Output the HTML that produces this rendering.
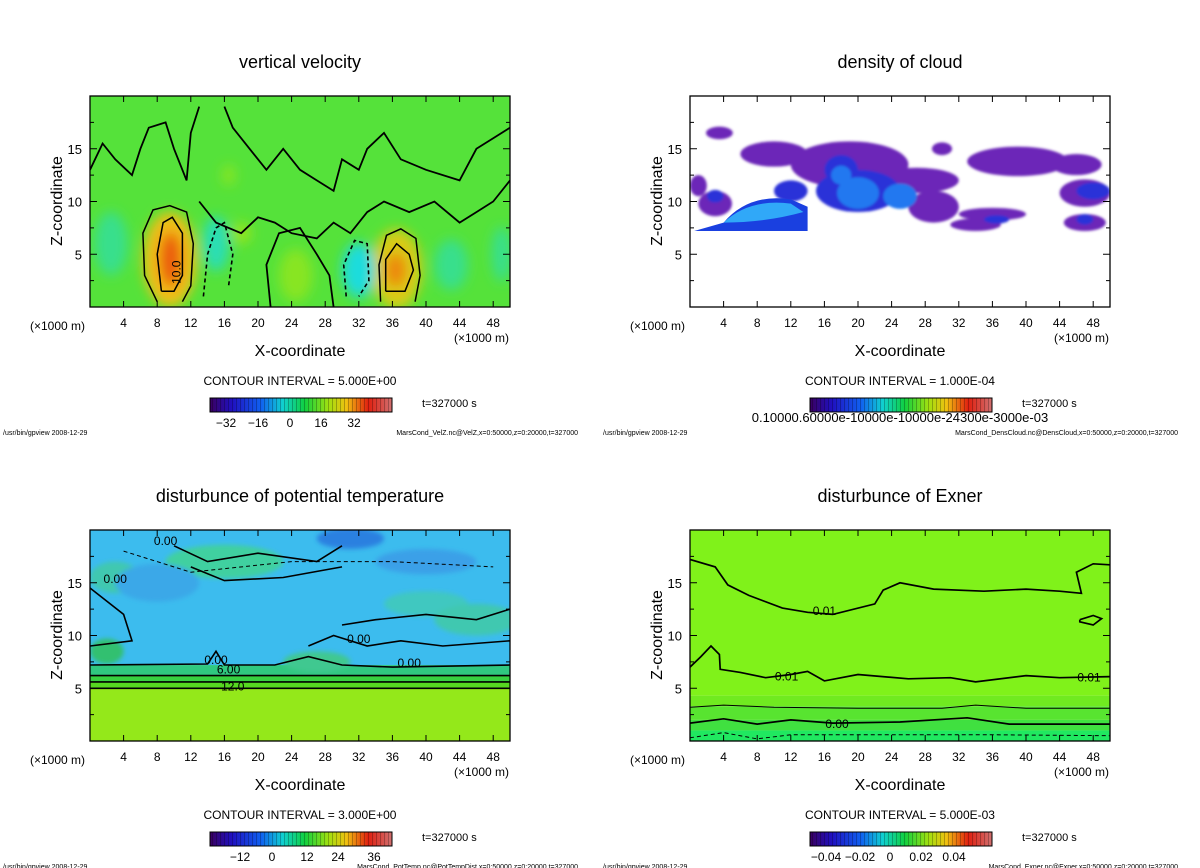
<!DOCTYPE html>
<html><head><meta charset="utf-8"><style>
html,body{margin:0;padding:0;background:#fff;width:1200px;height:868px;overflow:hidden}
svg{display:block}
text{font-family:"Liberation Sans","DejaVu Sans",sans-serif;fill:#000}
</style></head><body>
<svg id="s" width="1200" height="868" viewBox="0 0 1200 868" xmlns="http://www.w3.org/2000/svg">
<defs>
<filter id="b6" x="-50%" y="-50%" width="200%" height="200%"><feGaussianBlur stdDeviation="6"/></filter>
<filter id="b3" x="-50%" y="-50%" width="200%" height="200%"><feGaussianBlur stdDeviation="2.5"/></filter>
<filter id="b1" x="-50%" y="-50%" width="200%" height="200%"><feGaussianBlur stdDeviation="1.2"/></filter>
<linearGradient id="rainbow" x1="0" x2="1" y1="0" y2="0">
<stop offset="0" stop-color="#3a0060"/><stop offset="0.12" stop-color="#2010c0"/><stop offset="0.28" stop-color="#1060f0"/>
<stop offset="0.4" stop-color="#10d0d0"/><stop offset="0.52" stop-color="#10d040"/><stop offset="0.65" stop-color="#a0e010"/>
<stop offset="0.75" stop-color="#f0c010"/><stop offset="0.87" stop-color="#e02010"/><stop offset="1" stop-color="#d07070"/>
</linearGradient>
<pattern id="stripes" width="4" height="10" patternUnits="userSpaceOnUse"><rect x="0" y="0" width="1" height="10" fill="rgba(0,0,0,0.25)"/></pattern>
<clipPath id="c1"><rect x="90" y="96" width="420" height="211"/></clipPath>
<clipPath id="c2"><rect x="690" y="96" width="420" height="211"/></clipPath>
<clipPath id="c3"><rect x="90" y="530" width="420" height="211"/></clipPath>
<clipPath id="c4"><rect x="690" y="530" width="420" height="211"/></clipPath>
</defs>
</svg>
<script>
// ---- data ----
const xTicks=[4,8,12,16,20,24,28,32,36,40,44,48];
const zTicks=[5,10,15];
// velocity blobs: [x km, z km, rx km, rz km, value]
const velBlobs=[[9.5,4.5,3.2,4.5,20],[9.6,4.5,1.3,2.6,34],[36.5,3.6,3,3.8,16],[36.4,3.5,1.2,1.6,28],
 [15,6,1.6,2.6,-6],[32,3.5,2,2.6,-8],[2.5,6,2,3,-4],[43,4,2,2.4,-4],[49,5,1.2,2.6,-4],[24.5,3,2,2.5,5],[18,7,1.2,1,6],[16.5,12.5,0.8,1,5]];
const velContours=[
 [[8,0.5],[6.5,3],[6.3,7],[7.5,9.2],[9.5,9.6],[11.5,9],[12.3,6],[12,2],[11,0.5]],
 [[8.5,1.5],[8,5],[8.7,8],[9.8,8.5],[11,7],[11,3],[10,1.5],[8.5,1.5]],
 [[34.6,0.5],[34.4,4],[35.3,6.8],[37,7.4],[38.8,6.5],[39.3,3],[38.7,0.5]],
 [[35.2,1.5],[35.2,4.5],[36.5,6],[38,5],[38.5,3.5],[37.5,1.5],[35.2,1.5]],
 [[0,13],[1.5,15.5],[3,14],[5,12.5],[6,15],[7,17],[9,17.5],[10,15],[11.5,12],[12,16.5],[13,19]],
 [[16,19],[17,17],[19,15],[21,13],[23,15],[25,13],[27,12],[29,11],[30,14],[32,13],[33,15],[35,16.5],[37,14],[40,13],[44,12],[46,15],[48,16],[50,17]],
 [[13,10],[15,8],[18,7],[20,8.5],[22,8],[24,7],[27,6.5],[29,8],[31,7],[33,9],[35,10],[38,9],[41,10],[44,8],[46,9],[48,10],[50,12]],
 [[21.5,0],[21,4],[22.5,7],[25,7.5],[27,5],[28.5,3],[29,0]]
];
// cloud blobs: [x, z, rx, rz, level]
const cloudBlobs=[[3.5,16.5,1.6,0.6,0],[10,14.5,4,1.2,0],[19,13.5,7,2.2,0],[27,12,5,1.2,0],[39,13.8,6,1.4,0],[46,13.5,3,1,0],
 [1,11.5,1,1,0],[3,9.8,2,1.2,0],[29,9.5,3,1.5,0],[36,8.8,4,0.6,0],[34,7.8,3,0.6,0],[47,10.8,3,1.3,0],[47,8,2.5,0.8,0],[30,15,1.2,0.6,0],
 [20,11,5,2,1],[18,13,2,1.4,1],[12,11,2,1,1],[48,11,2,0.8,1],[47,8.3,1,0.5,1],[36.5,8.3,1.5,0.4,1],[3,10.5,1,0.6,1],
 [20,10.8,2.5,1.5,2],[25,10.5,2,1.2,2],[18,12.5,1.2,0.9,2]];
const ptLevels=[[0,5,"#94e81a"],[5,5.6,"#56d820"],[5.6,6.2,"#38d040"],[6.2,7.2,"#30c880"],[7.2,20,"#3cbcee"]];
const ptPatches=[[16,17,7,1.6,"#40d0a0"],[3,15.5,3,1.5,"#40c8b0"],[2,8.5,2,1.2,"#30c070"],[40,13,5,1.2,"#40c8c0"],[46,11.5,5,1.5,"#40c8b0"],[27,7.5,4,1,"#40c890"],[31,19.2,4,1,"#2a80e0"],[8,15,5,1.8,"#3aa8e8"],[40,17,6,1.2,"#3aa0e8"]];
const exLevels=[[0,1,"#20e860"],[1,2,"#40e040"],[2,3.3,"#58e430"],[3.3,4.3,"#70ea20"],[4.3,20,"#80f21a"]];
// ---- helpers ----
const svg=document.getElementById('s');
const NS='http://www.w3.org/2000/svg';
function mk(tag,attrs,parent){const e=document.createElementNS(NS,tag);for(const k in attrs)e.setAttribute(k,attrs[k]);(parent||svg).appendChild(e);return e;}
function txt(x,y,s,size,anchor,parent){const t=mk('text',{x:x,y:y,'font-size':size,'text-anchor':anchor||'start'},parent);t.textContent=s;return t;}
function axes(x0,y0){return {X:v=>x0+v/50*420,Z:v=>y0+211-v/20*211};}
function velColor(v){const stops=[[-34,[40,0,160]],[-16,[20,120,240]],[-8,[30,220,220]],[0,[80,226,60]],[8,[170,230,20]],[20,[240,190,20]],[34,[235,90,10]]];
 for(let i=1;i<stops.length;i++){if(v<=stops[i][0]){const a=stops[i-1],b=stops[i];const t=(v-a[0])/(b[0]-a[0]);return 'rgb('+a[1].map((c,j)=>Math.round(c+(b[1][j]-c)*t)).join(',')+')';}}return 'rgb(235,90,10)';}
function poly(A,pts,parent,w,dash,name){const d=pts.map((p,i)=>(i?'L':'M')+A.X(p[0]).toFixed(1)+','+A.Z(p[1]).toFixed(1)).join(' ');
 const p=mk('path',{d:d,fill:'none',stroke:'#000','stroke-width':w||1.6,'stroke-dasharray':dash||'none'},parent);
 
 return p;}
function panel(x0,y0,title,clip,name){
 const g=mk('g',{});
 
 
 const A=axes(x0,y0);
 const t=txt(x0+210,y0-28,title,18,'middle',g);
 
 
 const field=mk('g',{'clip-path':'url(#'+clip+')'},g);
 
 
 const ax=mk('g',{},g);
 
 
 mk('rect',{x:x0,y:y0,width:420,height:211,fill:'none',stroke:'#000','stroke-width':1.3},ax);
 xTicks.forEach(v=>{const X=A.X(v);mk('line',{x1:X,x2:X,y1:y0,y2:y0+6,stroke:'#000'},ax);mk('line',{x1:X,x2:X,y1:y0+211,y2:y0+205,stroke:'#000'},ax);
   const l=txt(X,y0+231,String(v),12,'middle',ax);});
 for(let v=2.5;v<20;v+=2.5){const Y=A.Z(v);const L=(v%5===0)?7:4;mk('line',{x1:x0,x2:x0+L,y1:Y,y2:Y,stroke:'#000'},ax);mk('line',{x1:x0+420,x2:x0+420-L,y1:Y,y2:Y,stroke:'#000'},ax);}
 zTicks.forEach(v=>{const l=txt(x0-8,A.Z(v)+5,String(v),13,'end',ax);});
 const u1=txt(x0-60,y0+234,'(\u00d71000 m)',12,'start',ax);
 const u2=txt(x0+364,y0+246,'(\u00d71000 m)',12,'start',ax);
 const xt=txt(x0+210,y0+260,'X-coordinate',16,'middle',ax);
 const zt=mk('text',{x:0,y:0,'font-size':16,'text-anchor':'middle',transform:'translate('+(x0-28)+','+(y0+105)+') rotate(-90)'},ax);zt.textContent='Z-coordinate';
 
 return {g,A,field,ax};
}
function colorbar(x0,y0,interval,ticks,bx,name,file){
 const g=mk('g',{});
 
 
 txt(x0+210,y0+289,'CONTOUR INTERVAL = '+interval,12,'middle',g);
 const r=mk('rect',{x:x0+120,y:y0+302,width:182,height:14,fill:'url(#rainbow)',stroke:'#000','stroke-width':1},g);
 
 mk('rect',{x:x0+120,y:y0+302,width:182,height:14,fill:'url(#stripes)'},g);
 txt(x0+332,y0+311,'t=327000 s',11,'start',g).setAttribute('fill','#333');
 ticks.forEach((t,i)=>txt(x0+120+bx[i],y0+331,t,12,'middle',g));
 txt(x0-87,y0+339,'/usr/bin/gpview  2008-12-29',7,'start',g);
 txt(x0+488,y0+339,file,7,'end',g);
}
// ---- panel 1: vertical velocity ----
let P=panel(90,96,'vertical velocity','c1','panel-vertical-velocity');
mk('rect',{x:90,y:96,width:420,height:211,fill:'#55e23a'},P.field);
const gb=mk('g',{filter:'url(#b6)'},P.field);
velBlobs.forEach(b=>{const e=mk('ellipse',{cx:P.A.X(b[0]),cy:P.A.Z(b[1]),rx:b[2]/50*420,ry:b[3]/20*211,fill:velColor(b[4])},gb);
 });
velContours.forEach((c,i)=>poly(P.A,c,P.field,i<4?1.5:1.8,null,'velocity-contour'));
poly(P.A,[[13.5,1],[14,5],[15,7.5],[16,8],[17,5],[16.5,2]],P.field,1.6,'4,3','negative-contour');
poly(P.A,[[30.5,1],[30.2,4],[31.5,6.3],[33,6],[33.2,2.5],[32,1]],P.field,1.6,'4,3','negative-contour');
txt(P.A.X(10.8),P.A.Z(3.3),'10.0',12,'middle',P.field).setAttribute('transform','rotate(-90 '+P.A.X(10.8)+' '+P.A.Z(3.3)+')');
colorbar(90,96,'5.000E+00',['\u221232','\u221216','0','16','32'],[16,48,80,111,144],'colorbar-velocity','MarsCond_VelZ.nc@VelZ,x=0:50000,z=0:20000,t=327000');
// ---- panel 2: cloud density ----
P=panel(690,96,'density of cloud','c2','panel-density-of-cloud');
mk('rect',{x:690,y:96,width:420,height:211,fill:'#fff'},P.field);
const cc=['#6c28b8','#2a30d8','#2078f0'];
const gc=mk('g',{filter:'url(#b1)'},P.field);
cloudBlobs.forEach(b=>{const e=mk('ellipse',{cx:P.A.X(b[0]),cy:P.A.Z(b[1]),rx:b[2]/50*420,ry:b[3]/20*211,fill:cc[b[4]]},gc);
 });
mk('path',{d:'M'+P.A.X(0.5)+','+P.A.Z(7.2)+' L'+P.A.X(4)+','+P.A.Z(8)+' Q'+P.A.X(7)+','+P.A.Z(10.8)+' '+P.A.X(12)+','+P.A.Z(10.2)+' L'+P.A.X(14)+','+P.A.Z(9.5)+' L'+P.A.X(14)+','+P.A.Z(7.2)+' Z',fill:'#1a40e0'},P.field);
mk('path',{d:'M'+P.A.X(4)+','+P.A.Z(8)+' Q'+P.A.X(7)+','+P.A.Z(10.3)+' '+P.A.X(12)+','+P.A.Z(9.8)+' L'+P.A.X(13.5)+','+P.A.Z(9)+' Q'+P.A.X(9)+','+P.A.Z(8)+' '+P.A.X(4)+','+P.A.Z(8)+' Z',fill:'#30a8f8'},P.field);
colorbar(690,96,'1.000E-04',[],[],'colorbar-cloud','MarsCond_DensCloud.nc@DensCloud,x=0:50000,z=0:20000,t=327000');
txt(900,422,'0.10000.60000e-10000e-10000e-24300e-3000e-03',13,'middle');
// ---- panel 3: potential temperature ----
P=panel(90,530,'disturbunce of potential temperature','c3','panel-potential-temperature');
ptLevels.forEach(l=>{const r=mk('rect',{x:90,y:P.A.Z(l[1]),width:420,height:P.A.Z(l[0])-P.A.Z(l[1]),fill:l[2]},P.field);
 });
const gp=mk('g',{filter:'url(#b3)'},P.field);
ptPatches.forEach(b=>{const e=mk('ellipse',{cx:P.A.X(b[0]),cy:P.A.Z(b[1]),rx:b[2]/50*420,ry:b[3]/20*211,fill:b[4]},gp);
 });
[5.0,5.6,6.2].forEach(z=>poly(P.A,[[0,z],[50,z]],P.field,1.6,null,'temperature-contour'));
poly(P.A,[[0,7.2],[14,7.3],[15,8.5],[16,7.2],[22,7.2],[26,8],[30,7.2],[36,7],[50,7.2]],P.field,1.6,null,'temperature-contour');
poly(P.A,[[10,18.5],[14,17],[20,17.8],[27,17],[30,18.5]],P.field,1.6,null,'temperature-contour');
poly(P.A,[[12,16.5],[16,15.2],[23,15.5],[30,16.5]],P.field,1.6,null,'temperature-contour');
poly(P.A,[[30,11],[34,11.5],[40,12],[46,11.5],[50,12.5]],P.field,1.6,null,'temperature-contour');
poly(P.A,[[26,9],[29,10],[33,9],[37,9.5],[42,9],[50,9.5]],P.field,1.6,null,'temperature-contour');
poly(P.A,[[0,14.5],[4,12],[5,9.5],[0,9]],P.field,1.6,null,'temperature-contour');
poly(P.A,[[4,18],[12,16],[24,17],[36,17],[48,16.5]],P.field,1,'4,3','negative-contour');
[['0.00',15,7.3],['6.00',16.5,6.4],['12.0',17,4.8],['0.00',38,7.0],['0.00',32,9.3],['0.00',9,18.6],['0.00',3,15]].forEach(l=>{
 const t=txt(P.A.X(l[1]),P.A.Z(l[2]),l[0],12,'middle',P.field);});
colorbar(90,530,'3.000E+00',['\u221212','0','12','24','36'],[30,62,97,128,164],'colorbar-temperature','MarsCond_PotTemp.nc@PotTempDist,x=0:50000,z=0:20000,t=327000');
// ---- panel 4: Exner ----
P=panel(690,530,'disturbunce of Exner','c4','panel-exner');
exLevels.forEach(l=>{const r=mk('rect',{x:690,y:P.A.Z(l[1]),width:420,height:P.A.Z(l[0])-P.A.Z(l[1]),fill:l[2]},P.field);
 });
poly(P.A,[[0,17.2],[3,16.5],[4.5,14.8],[7,13.8],[11,12.6],[14,12.2],[17,12],[22,13],[23,14.3],[25,15],[29,14.4],[35,14.2],[40,14.4],[44,14.2],[46.6,14],[46,16],[48,16.8],[50,16.7]],P.field,1.7,null,'exner-contour');
poly(P.A,[[46.4,11.5],[48,11.9],[49,11.6],[48,11],[46.4,11.3],[46.4,11.5]],P.field,1.7,null,'exner-contour');
poly(P.A,[[0,7],[1.3,8],[2.5,9],[3.5,8.2],[3.6,6.8],[6,6.5],[9,6],[12,6.3],[14,6.6],[16,5.7],[20,6.3],[26,5.9],[31,6.0],[34,5.6],[40,6.2],[44,6.0],[50,6.1]],P.field,1.7,null,'exner-contour');
poly(P.A,[[0,3.2],[4,3.4],[10,3.2],[20,3.1],[30,3.1],[34,3.4],[40,3.1],[50,3.1]],P.field,1,null,'exner-contour');
poly(P.A,[[0,1.7],[4,2.1],[8,1.6],[12,2],[17,1.7],[25,1.8],[33,2.2],[38,1.6],[50,1.6]],P.field,1.7,null,'exner-contour');
poly(P.A,[[0,0.3],[4,0.8],[8,0.2],[12,0.6],[35,0.6],[50,0.5]],P.field,1,'4,3','negative-contour');
[['0.01',16,12.3],['0.01',11.5,6.1],['0.01',47.5,6.0],['0.00',17.5,1.6]].forEach(l=>{
 const t=txt(P.A.X(l[1]),P.A.Z(l[2])+4,l[0],12,'middle',P.field);});
colorbar(690,530,'5.000E-03',['\u22120.04','\u22120.02','0','0.02','0.04'],[16,50,80,111,144],'colorbar-exner','MarsCond_Exner.nc@Exner,x=0:50000,z=0:20000,t=327000');
</script>
</body></html>
